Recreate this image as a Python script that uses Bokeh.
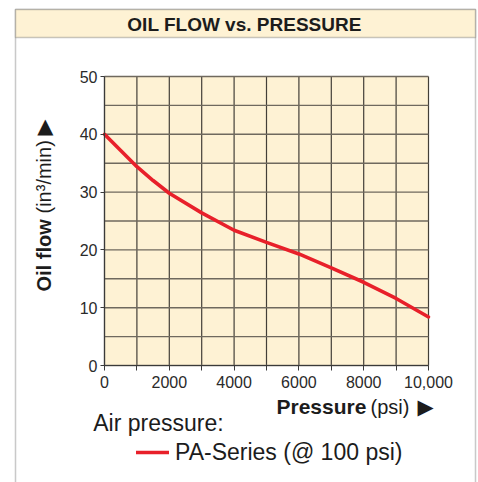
import numpy as np
from bokeh.plotting import figure
from bokeh.models import (FixedTicker, Label, BoxAnnotation, Legend, LegendItem, Range1d)
from bokeh.embed import file_html
from bokeh.resources import INLINE

# ---------------- data ----------------
pressure = [0, 500, 1000, 1500, 2000, 3000, 4000, 5000, 6000, 7000, 8000, 9000, 10000]
oil_flow = [40.0, 37.2, 34.4, 32.0, 29.8, 26.4, 23.4, 21.3, 19.3, 16.9, 14.4, 11.6, 8.4]
series_name = "PA-Series (@ 100 psi)"
legend_title = "Air pressure:"
x_limits = (0, 10000)
y_limits = (0, 50)
x_major_ticks = [0, 2000, 4000, 6000, 8000, 10000]
x_minor_ticks = [1000, 3000, 5000, 7000, 9000]
x_tick_labels = {10000: "10,000"}
y_major_ticks = [0, 10, 20, 30, 40, 50]
x_grid_ticks = list(range(0, 10001, 1000))
y_grid_ticks = list(range(0, 51, 5))
title_text = "OIL FLOW vs. PRESSURE"
y_label_bold, y_label_rest = "Oil flow", "(in³/min)"
x_label_bold, x_label_rest = "Pressure", "(psi)"

# ---------------- layout ----------------
W, H = 478, 482
FL, FR, FT, FB = 104, 428, 76, 365   # chart area edges in canvas px
X0, X1 = x_limits
Y0, Y1 = y_limits
CREAM = "#FEF2D4"
DARK = "#3a3a3a"
TXT = "#1c1c1c"
RED = "#E8202A"
FONT = "Liberation Sans"


def dx(cx):
    return X0 + (cx - FL) / (FR - FL) * (X1 - X0)


def dy(cy):
    return Y0 + (FB - cy) / (FB - FT) * (Y1 - Y0)


p = figure(width=W, height=H, x_range=Range1d(dx(0), dx(W)), y_range=Range1d(dy(H), dy(0)),
           output_backend="svg", toolbar_location=None,
           min_border_left=0, min_border_right=0, min_border_top=0, min_border_bottom=0)
p.background_fill_color = "white"
p.border_fill_color = "white"
p.outline_line_color = None
p.grid.visible = False

# chart area background
p.quad(left=[X0], right=[X1], bottom=[Y0], top=[Y1], fill_color=CREAM, line_color=None)

# grid lines
p.segment(x0=x_grid_ticks, x1=x_grid_ticks, y0=[Y0] * len(x_grid_ticks), y1=[Y1] * len(x_grid_ticks),
          line_color="#433f38", line_width=1.2)
p.segment(x0=[X0] * len(y_grid_ticks), x1=[X1] * len(y_grid_ticks), y0=y_grid_ticks, y1=y_grid_ticks,
          line_color="#6f695e", line_width=1.4)

line = p.line(pressure, oil_flow, line_color=RED, line_width=3.6, line_cap="round")

# axes, pinned to the chart area
for ax in (p.xaxis, p.yaxis):
    ax.axis_line_color = DARK
    ax.axis_line_width = 1.2
    ax.major_tick_line_color = DARK
    ax.minor_tick_line_color = DARK
    ax.major_tick_in = 0
    ax.minor_tick_in = 0
    ax.major_label_text_font = FONT
    ax.major_label_text_font_size = "16px"
    ax.major_label_text_color = "#2a2a2a"

p.xaxis.fixed_location = Y0
p.xaxis.bounds = x_limits
p.xaxis.ticker = FixedTicker(ticks=x_major_ticks, minor_ticks=x_minor_ticks)
p.xaxis.major_label_overrides = x_tick_labels
p.xaxis.major_tick_out = 5
p.xaxis.minor_tick_out = 5
p.xaxis.major_label_standoff = 5

p.yaxis.fixed_location = X0
p.yaxis.bounds = y_limits
p.yaxis.ticker = FixedTicker(ticks=y_major_ticks)
p.yaxis.major_tick_out = 4
p.yaxis.minor_tick_out = 0
p.yaxis.major_label_standoff = 3

# outer box and header band
p.add_layout(BoxAnnotation(left=dx(15), right=dx(475), top=dy(9), bottom=dy(505),
                           fill_alpha=0, line_color="#4d4d4d", line_width=1.5))
p.add_layout(BoxAnnotation(left=dx(15), right=dx(475), top=dy(9), bottom=dy(37),
                           fill_color=CREAM, fill_alpha=1, line_color="#4d4d4d", line_width=1.5))

# title
p.add_layout(Label(x=dx(244), y=dy(23.7), text=title_text, text_align="center",
                   text_baseline="middle", text_font=FONT, text_font_style="bold",
                   text_font_size="19px", text_color=TXT))

# y axis label (rotated)
p.add_layout(Label(x=dx(43), y=dy(291), text=y_label_bold, angle=np.pi / 2,
                   text_align="left", text_baseline="middle", text_font=FONT,
                   text_font_style="bold", text_font_size="20px", text_color=TXT))
p.add_layout(Label(x=dx(43), y=dy(213), text=y_label_rest, angle=np.pi / 2,
                   text_align="left", text_baseline="middle", text_font=FONT,
                   text_font_size="20px", text_color=TXT))
p.add_layout(Label(x=dx(44.7), y=dy(125), text="▲", text_align="center",
                   text_baseline="middle", text_font="DejaVu Sans",
                   text_font_size="21px", text_color=TXT))

# x axis label
p.add_layout(Label(x=dx(276), y=dy(406), text=x_label_bold, text_align="left",
                   text_baseline="middle", text_font=FONT, text_font_style="bold",
                   text_font_size="21px", text_color=TXT))
p.add_layout(Label(x=dx(370), y=dy(406), text=x_label_rest, text_align="left",
                   text_baseline="middle", text_font=FONT,
                   text_font_size="20px", text_color=TXT))
p.add_layout(Label(x=dx(425), y=dy(406), text="▶", text_align="center",
                   text_baseline="middle", text_font="DejaVu Sans",
                   text_font_size="21px", text_color=TXT))

# legend
p.add_layout(Label(x=dx(92.7), y=dy(422), text=legend_title, text_align="left",
                   text_baseline="middle", text_font=FONT,
                   text_font_size="23px", text_color=TXT))
legend = Legend(items=[LegendItem(label=series_name, renderers=[line])],
                location=(136, H - 467.3), padding=0, margin=0,
                border_line_color=None, background_fill_alpha=0,
                glyph_width=33, glyph_height=30, label_height=30, label_standoff=6,
                label_text_font=FONT, label_text_font_size="23px",
                label_text_color=TXT)
p.add_layout(legend)

open("out.html", "w").write(file_html(p, INLINE))
